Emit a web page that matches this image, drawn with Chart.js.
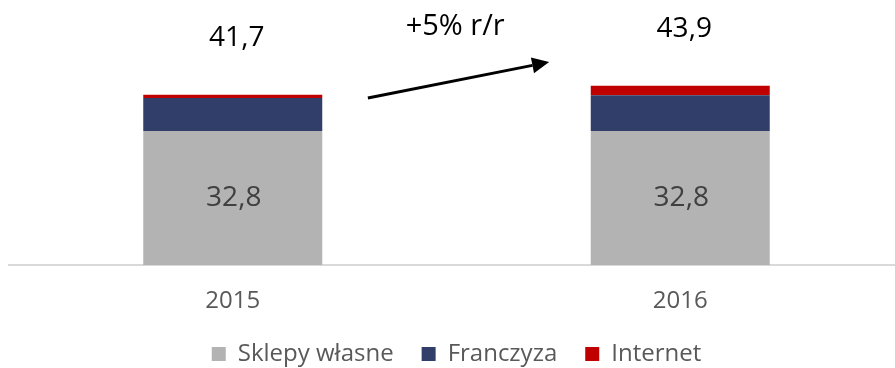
<!DOCTYPE html>
<html>
<head>
<meta charset="utf-8">
<script src="https://cdn.jsdelivr.net/npm/chart.js@4/dist/chart.umd.min.js"></script>
<style>
  html, body { margin: 0; padding: 0; background: #fff; overflow: hidden; }
  #wrap { width: 904px; height: 368px; }
</style>
</head>
<body>
<div id="wrap"><canvas id="c" width="904" height="368"></canvas></div>
<script>
// Sales by channel (stacked), in PLN mln
const years = ['2015', '2016'];
const sklepyWlasne = [32.8, 32.8];
const franczyza = [8.1, 8.8];
const internet = [0.8, 2.3];
const growthLabel = '+5% r/r';

const fmt = v => v.toFixed(1).replace('.', ',');
const FONT = '"Open Sans", "DejaVu Sans", sans-serif';

// Values on bars: totals above each stack, own-store value inside the grey segment
const valueLabels = {
  id: 'valueLabels',
  afterDatasetsDraw(chart) {
    const { ctx, scales: { x, y } } = chart;
    ctx.save();
    ctx.textAlign = 'center';
    ctx.textBaseline = 'middle';
    years.forEach((yr, i) => {
      const total = sklepyWlasne[i] + franczyza[i] + internet[i];
      const cx = x.getPixelForValue(i);
      ctx.font = '28px ' + FONT;
      ctx.fillStyle = '#000';
      ctx.fillText(fmt(total), cx + 4, y.getPixelForValue(total) - 57);
      ctx.fillStyle = '#404040';
      ctx.fillText(fmt(sklepyWlasne[i]), cx + 1, (y.getPixelForValue(0) + y.getPixelForValue(sklepyWlasne[i])) / 2);
    });

    // growth arrow between the two years
    const x0 = x.getPixelForValue(0), x1 = x.getPixelForValue(1);
    const sx = x0 + 0.302 * (x1 - x0), sy = y.getPixelForValue(40.9);
    const ex = x0 + 0.707 * (x1 - x0), ey = y.getPixelForValue(49.7);
    const ang = Math.atan2(ey - sy, ex - sx);
    const head = 17, hw = 8;
    const bx = ex - head * Math.cos(ang), by = ey - head * Math.sin(ang);
    ctx.strokeStyle = '#000';
    ctx.lineWidth = 3;
    ctx.beginPath();
    ctx.moveTo(sx, sy);
    ctx.lineTo(bx, by);
    ctx.stroke();
    ctx.fillStyle = '#000';
    ctx.beginPath();
    ctx.moveTo(ex, ey);
    ctx.lineTo(bx + hw * Math.sin(ang), by - hw * Math.cos(ang));
    ctx.lineTo(bx - hw * Math.sin(ang), by + hw * Math.cos(ang));
    ctx.closePath();
    ctx.fill();

    ctx.font = '29px ' + FONT;
    ctx.fillText(growthLabel, x0 + 0.497 * (x1 - x0), y.getPixelForValue(58.3));
    ctx.restore();
  }
};

new Chart(document.getElementById('c'), {
  type: 'bar',
  data: {
    labels: years,
    datasets: [
      { label: 'Sklepy własne', data: sklepyWlasne, backgroundColor: '#b3b3b3' },
      { label: 'Franczyza', data: franczyza, backgroundColor: '#323e6a' },
      { label: 'Internet', data: internet, backgroundColor: '#c00000' }
    ]
  },
  options: {
    responsive: false,
    animation: false,
    barPercentage: 0.4,
    categoryPercentage: 1,
    layout: { padding: { left: 9, right: 0, top: 20, bottom: -8 } },
    scales: {
      x: {
        stacked: true,
        grid: { display: false },
        border: { display: true, color: '#d9d9d9', width: 2 },
        ticks: { color: '#595959', font: { family: FONT, size: 24 }, padding: 14 },
        afterFit(scale) { scale.height = 49; }
      },
      y: {
        stacked: true,
        display: false,
        min: 0,
        max: 60
      }
    },
    plugins: {
      legend: {
        position: 'bottom',
        labels: {
          color: '#595959',
          font: { family: FONT, size: 24 },
          boxWidth: 14,
          boxHeight: 14,
          padding: 28
        }
      },
      tooltip: { enabled: false }
    }
  },
  plugins: [valueLabels]
});
</script>
</body>
</html>
